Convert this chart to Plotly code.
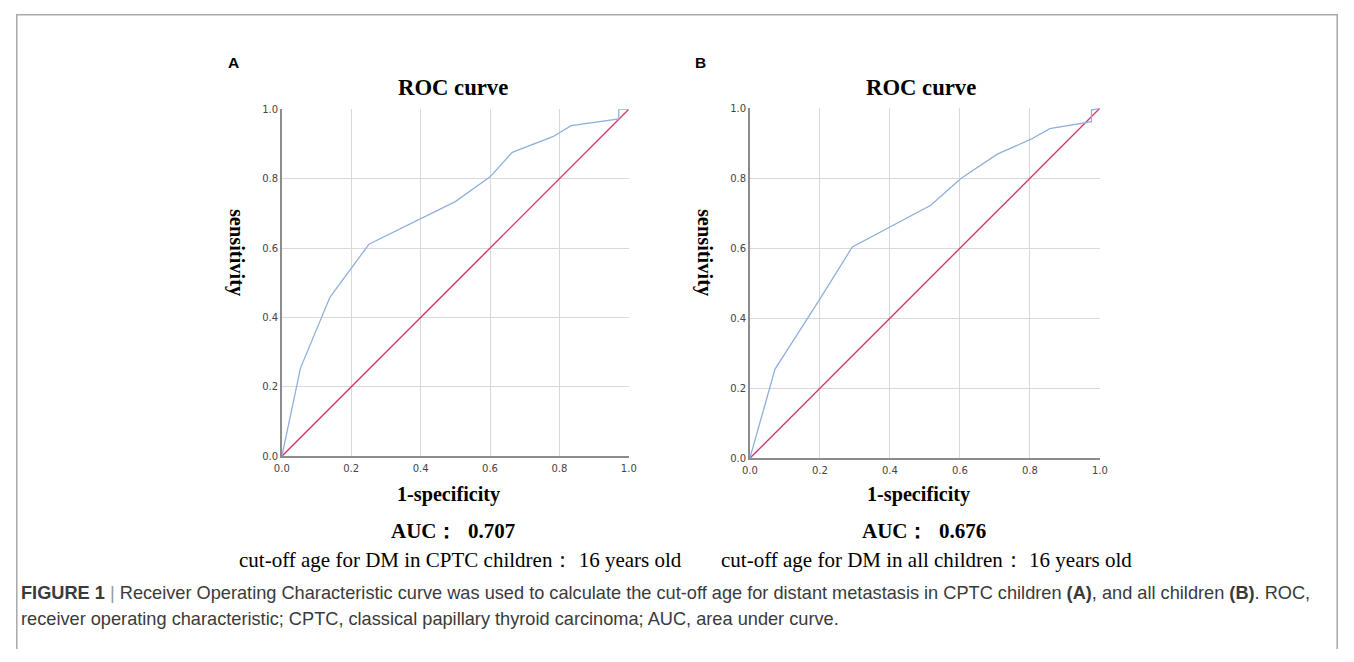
import plotly.graph_objects as go

# ROC data
fpr_a = [0.0, 0.054, 0.139, 0.197, 0.251, 0.50, 0.601, 0.664, 0.781, 0.834, 0.971, 0.971, 1.0]
tpr_a = [0.0, 0.255, 0.459, 0.539, 0.611, 0.734, 0.806, 0.876, 0.921, 0.953, 0.972, 1.0, 1.0]

fpr_b = [0.0, 0.072, 0.20, 0.293, 0.517, 0.602, 0.707, 0.802, 0.857, 0.976, 0.976, 1.0]
tpr_b = [0.0, 0.255, 0.455, 0.604, 0.723, 0.799, 0.869, 0.911, 0.942, 0.962, 0.995, 1.0]

ref_x = [0.0, 1.0]
ref_y = [0.0, 1.0]

tick_vals = [0.0, 0.2, 0.4, 0.6, 0.8, 1.0]
tick_text = ["0.0", "0.2", "0.4", "0.6", "0.8", "1.0"]

panel_labels = ["A", "B"]
titles = ["ROC curve", "ROC curve"]
x_title = "1-specificity"
y_title = "sensitivity"
auc_text = ["AUC：  0.707", "AUC：  0.676"]
cutoff_text = ["cut-off age for DM in CPTC children： 16 years old",
               "cut-off age for DM in all children： 16 years old"]

W, H = 1338, 646
# mapping from target picture pixels to figure pixels (measured from the render)
SX, OX = 0.988, 15.2
SY, OY = 0.980, 14.0
BLUE = "#8fb0de"
RED = "#d8356e"

fig = go.Figure()

for i, (fx, ty) in enumerate([(fpr_a, tpr_a), (fpr_b, tpr_b)]):
    xa = "x" if i == 0 else "x2"
    ya = "y" if i == 0 else "y2"
    fig.add_trace(go.Scatter(x=ref_x, y=ref_y, mode="lines", xaxis=xa, yaxis=ya,
                             line=dict(color=RED, width=1.4), showlegend=False, hoverinfo="skip"))
    fig.add_trace(go.Scatter(x=fx, y=ty, mode="lines", xaxis=xa, yaxis=ya,
                             line=dict(color=BLUE, width=1.3), showlegend=False))

# plot area boxes (picture pixel coordinates)
boxes = [(281, 628, 109, 455), (749, 1099, 108, 457)]

def px(x):
    return ((x - OX) / SX) / W

def py(y):
    return 1 - ((y - OY) / SY) / H

axis_common = dict(
    range=[0, 1], tickvals=tick_vals, ticktext=tick_text,
    showgrid=True, gridcolor="#d9d9d9", gridwidth=1.2,
    showline=True, linecolor="#8c8c8c", linewidth=1.5,
    zeroline=False, ticks="", fixedrange=True,
    tickfont=dict(family="DejaVu Sans", size=10, color="#444444"),
)

layout = dict(
    width=W, height=H, margin=dict(l=0, r=0, t=0, b=0),
    paper_bgcolor="white", plot_bgcolor="white", showlegend=False,
)
for i, (x0, x1, y0, y1) in enumerate(boxes):
    sfx = "" if i == 0 else "2"
    layout["xaxis" + sfx] = dict(axis_common, domain=[px(x0), px(x1)],
                                 anchor="y" + sfx, ticklabelstandoff=2)
    layout["yaxis" + sfx] = dict(axis_common, domain=[py(y1), py(y0)],
                                 anchor="x" + sfx)
fig.update_layout(**layout)

ann = []
serif = "Liberation Serif, Times New Roman, serif"
lab_xs = [233, 700]
title_xs = [452, 920]
ytitle_xs = [235, 703]
xtitle_xs = [448, 918]
auc_xs = [452, 923]
cut_xs = [460, 926]
for i in range(2):
    ann.append(dict(text="<b>%s</b>" % panel_labels[i], x=px(lab_xs[i]), y=py(62), xref="paper", yref="paper",
                    showarrow=False, xanchor="center", yanchor="middle",
                    font=dict(family="Liberation Sans, Arial", size=15.5, color="black")))
    ann.append(dict(text="<b>%s</b>" % titles[i], x=px(title_xs[i]), y=py(87), xref="paper", yref="paper",
                    showarrow=False, xanchor="center", yanchor="middle",
                    font=dict(family=serif, size=22.7, color="black")))
    ann.append(dict(text="<b>%s</b>" % y_title, x=px(ytitle_xs[i]), y=py(252), xref="paper", yref="paper",
                    showarrow=False, xanchor="center", yanchor="middle", textangle=90,
                    font=dict(family=serif, size=20.4, color="black")))
    ann.append(dict(text="<b>%s</b>" % x_title, x=px(xtitle_xs[i]), y=py(493), xref="paper", yref="paper",
                    showarrow=False, xanchor="center", yanchor="middle",
                    font=dict(family=serif, size=20.2, color="black")))
    ann.append(dict(text="<b>%s</b>" % auc_text[i], x=px(auc_xs[i]), y=py(529), xref="paper", yref="paper",
                    showarrow=False, xanchor="center", yanchor="middle",
                    font=dict(family=serif, size=21, color="black")))
    ann.append(dict(text=cutoff_text[i], x=px(cut_xs[i]), y=py(558), xref="paper", yref="paper",
                    showarrow=False, xanchor="center", yanchor="middle",
                    font=dict(family=serif, size=21, color="black")))

cap_font = dict(family="Liberation Sans, Arial", size=18.2, color="#3a3a3a")
ann.append(dict(
    text="<b>FIGURE 1</b> <span style='color:#999'>|</span> Receiver Operating Characteristic curve was used to calculate the cut-off age for distant metastasis in CPTC children <b>(A)</b>, and all children <b>(B)</b>. ROC,",
    x=px(18), y=py(591), xref="paper", yref="paper", showarrow=False,
    xanchor="left", yanchor="middle", align="left", font=cap_font))
ann.append(dict(
    text="receiver operating characteristic; CPTC, classical papillary thyroid carcinoma; AUC, area under curve.",
    x=px(18), y=py(617), xref="paper", yref="paper", showarrow=False,
    xanchor="left", yanchor="middle", align="left", font=cap_font))
fig.update_layout(annotations=ann)

# outer frame (open at the bottom), kept just inside the figure edge
fx0, fx1, fy0 = 0.8 / W, 1 - 0.8 / W, 1 - 0.8 / H
fig.add_shape(type="path", xref="paper", yref="paper",
              path="M %f,0 L %f,%f L %f,%f L %f,0" % (fx0, fx0, fy0, fx1, fy0, fx1),
              line=dict(color="#a8a8a8", width=1.5))

fig.write_html("out.html", config={"displayModeBar": False})
